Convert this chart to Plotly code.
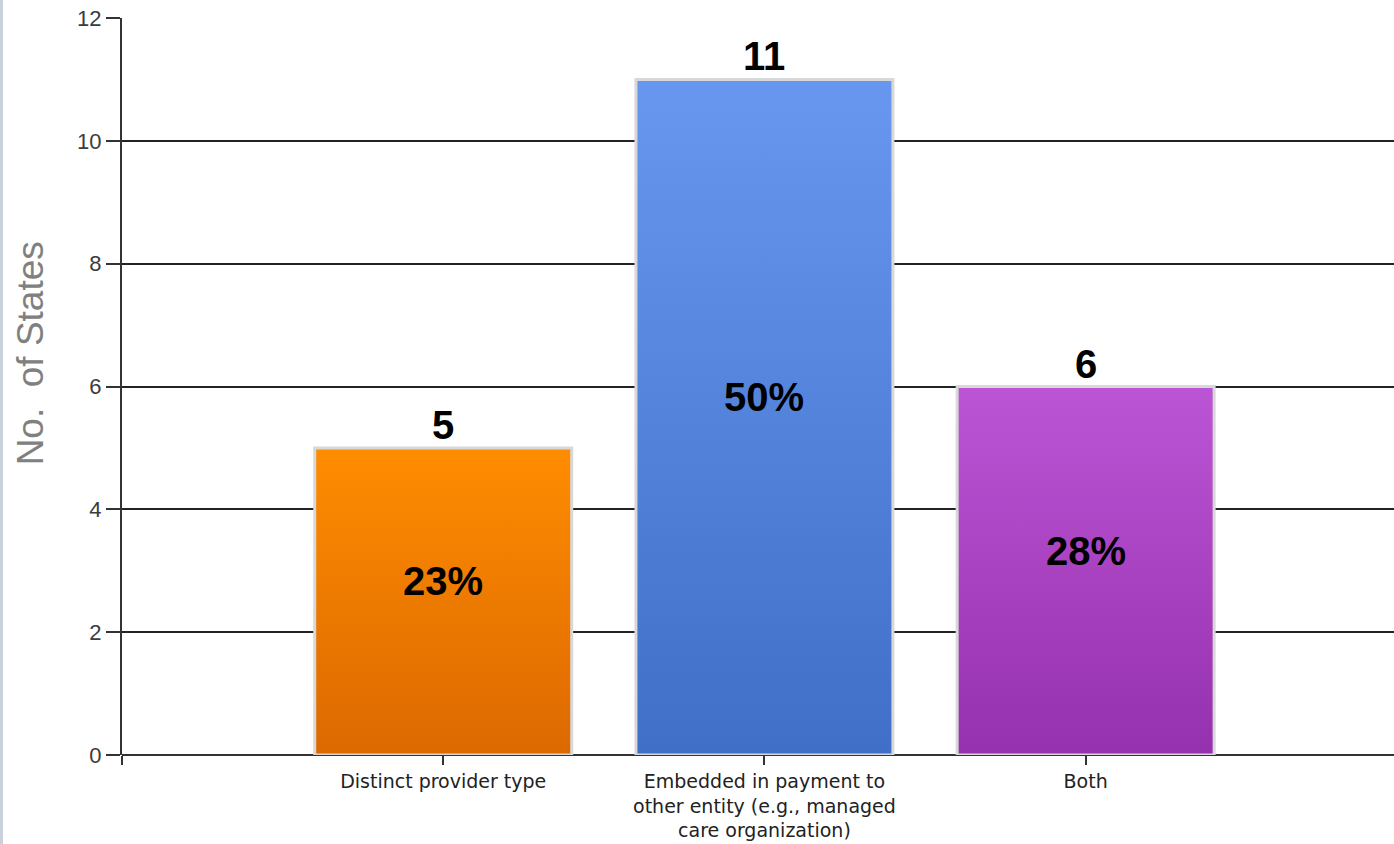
import plotly.graph_objects as go

categories = ["Distinct provider type",
              "Embedded in payment to<br>other entity (e.g., managed<br>care organization)",
              "Both"]
values = [5, 11, 6]
percents = ["23%", "50%", "28%"]
top_colors = ["#ff8c00", "#6797ee", "#bc55d5"]
bottom_colors = ["#dc6900", "#3f6fc6", "#9530ae"]
y_ticks = [0, 2, 4, 6, 8, 10, 12]

xs = list(range(len(categories)))
half = 0.4

fig = go.Figure()

# gradient-filled bars built from the data
for i, v in enumerate(values):
    fig.add_trace(go.Scatter(
        x=[xs[i] - half, xs[i] + half, xs[i] + half, xs[i] - half, xs[i] - half],
        y=[0, 0, v, v, 0],
        mode="lines", line=dict(width=3, color="#d8d8d8"), fill="toself",
        fillgradient=dict(type="vertical",
                          colorscale=[[0, bottom_colors[i]], [1, top_colors[i]]]),
        hoverinfo="skip", showlegend=False,
    ))

for i, v in enumerate(values):
    fig.add_annotation(x=xs[i], y=v, text=f"<b>{v}</b>", showarrow=False,
                       yanchor="bottom", yshift=-1,
                       font=dict(family="Liberation Sans, Arial", size=40, color="black"))
    fig.add_annotation(x=xs[i], y=v / 2, text=f"<b>{percents[i]}</b>", showarrow=False,
                       yanchor="middle", yshift=20,
                       font=dict(family="Liberation Sans, Arial", size=40, color="black"))

fig.add_annotation(xref="paper", yref="paper", x=-0.0723, y=0.545, text="No.  of States",
                   textangle=-90, showarrow=False, xanchor="center", yanchor="middle",
                   font=dict(family="Liberation Sans, Arial", size=37, color="#808080"))

fig.update_layout(
    width=1394, height=844,
    margin=dict(l=122, r=0, t=18, b=89, autoexpand=False),
    paper_bgcolor="white", plot_bgcolor="white",
    font=dict(family="Liberation Sans, Arial"),
    xaxis=dict(range=[-1, 2.96], tickvals=[-1] + xs, ticktext=[""] + categories,
               ticks="outside", ticklen=9, tickwidth=2, tickcolor="#333",
               showgrid=False, zeroline=False, showline=False, automargin=False,
               tickfont=dict(family="DejaVu Sans", size=19, color="#222")),
    yaxis=dict(range=[0, 12], tickvals=y_ticks, showgrid=True, gridcolor="#222",
               gridwidth=1.5, ticks="outside", ticklen=14, tickwidth=1.5, tickcolor="#333",
               showline=True, linecolor="#333", linewidth=2, zeroline=True,
               zerolinecolor="#333", zerolinewidth=2, automargin=False,
               tickfont=dict(size=22, color="#3c3c3c")),
)

fig.add_shape(type="rect", xref="paper", yref="paper", x0=-122/1272, x1=-119/1272,
              y0=-89/737, y1=1 + 18/737, fillcolor="#c9d2dc", line=dict(width=0),
              layer="below")

fig.write_html("out.html")
